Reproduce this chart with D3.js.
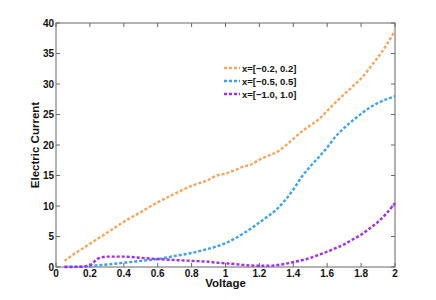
<!DOCTYPE html>
<html>
<head>
<meta charset="utf-8">
<script src="https://cdn.jsdelivr.net/npm/d3@7"></script>
<style>
  body { margin: 0; background: #fff; }
  svg text { font-family: "Liberation Sans", Arial, sans-serif; font-weight: bold; fill: #111; }
  .tick-label { font-size: 10px; }
  .axis-label { font-size: 11.5px; }
  .legend-label { font-size: 9.5px; }
  .frame { fill: none; stroke: #666; stroke-width: 1; }
  .tick { stroke: #666; stroke-width: 1; }
  .series { fill: none; stroke-width: 2.4; stroke-dasharray: 3,2; }
</style>
</head>
<body>
<script>
// Values
var seriesNames = ["x=[\u22120.2, 0.2]", "x=[\u22120.5, 0.5]", "x=[\u22121.0, 1.0]"];
var seriesColors = ["#f7a55a", "#3d9ff5", "#a42cf0"];

var voltage = [0.05, 0.1, 0.15, 0.2, 0.25, 0.3, 0.4, 0.5, 0.6, 0.7, 0.8, 0.9, 0.95, 1.0, 1.05, 1.1, 1.15, 1.2, 1.25, 1.3, 1.35, 1.4, 1.45, 1.5, 1.55, 1.6, 1.65, 1.7, 1.75, 1.8, 1.85, 1.9, 1.95, 2.0];

var currentNarrow = [1.0, 2.0, 2.9, 3.8, 4.7, 5.6, 7.4, 9.0, 10.6, 12.0, 13.3, 14.3, 15.0, 15.3, 15.8, 16.4, 16.8, 17.6, 18.2, 18.8, 19.8, 21.0, 22.2, 23.2, 24.2, 25.6, 27.0, 28.3, 29.6, 30.9, 32.6, 34.4, 36.4, 38.8];
var currentMid = [0.05, 0.05, 0.05, 0.1, 0.3, 0.4, 0.7, 1.0, 1.3, 1.8, 2.3, 3.0, 3.4, 3.9, 4.6, 5.4, 6.3, 7.3, 8.3, 9.4, 10.9, 12.7, 14.8, 16.5, 18.0, 19.6, 21.4, 22.8, 24.0, 25.1, 26.1, 26.9, 27.5, 28.0];
var currentWide = [0.0, 0.0, 0.05, 0.3, 1.4, 1.7, 1.7, 1.5, 1.3, 1.15, 1.0, 0.85, 0.7, 0.6, 0.5, 0.35, 0.25, 0.2, 0.2, 0.3, 0.5, 0.8, 1.1, 1.5, 2.0, 2.5, 3.1, 3.7, 4.5, 5.3, 6.3, 7.4, 8.8, 10.5];

var xTicks = [0, 0.2, 0.4, 0.6, 0.8, 1, 1.2, 1.4, 1.6, 1.8, 2];
var yTicks = [0, 5, 10, 15, 20, 25, 30, 35, 40];

var w = 436, h = 300;
var plotLeft = 56, plotRight = 395, plotTop = 23, plotBottom = 267;
var tickLen = 4;

var svg = d3.select("body").append("svg")
    .attr("width", w)
    .attr("height", h);

var x = d3.scaleLinear().domain([0, 2]).range([plotLeft, plotRight]);
var y = d3.scaleLinear().domain([0, 40]).range([plotBottom, plotTop]);

// Frame and inward ticks on all four sides
svg.append("rect")
    .attr("class", "frame")
    .attr("x", plotLeft)
    .attr("y", plotTop)
    .attr("width", plotRight - plotLeft)
    .attr("height", plotBottom - plotTop);

xTicks.forEach(function(t) {
    svg.append("line").attr("class", "tick")
        .attr("x1", x(t)).attr("x2", x(t))
        .attr("y1", plotBottom).attr("y2", plotBottom - tickLen);
    svg.append("line").attr("class", "tick")
        .attr("x1", x(t)).attr("x2", x(t))
        .attr("y1", plotTop).attr("y2", plotTop + tickLen);
    svg.append("text")
        .attr("class", "tick-label")
        .attr("x", x(t))
        .attr("y", plotBottom + 9.5)
        .attr("text-anchor", "middle")
        .text(d3.format("~g")(t));
});

yTicks.forEach(function(t) {
    svg.append("line").attr("class", "tick")
        .attr("x1", plotLeft).attr("x2", plotLeft + tickLen)
        .attr("y1", y(t)).attr("y2", y(t));
    svg.append("line").attr("class", "tick")
        .attr("x1", plotRight).attr("x2", plotRight - tickLen)
        .attr("y1", y(t)).attr("y2", y(t));
    svg.append("text")
        .attr("class", "tick-label")
        .attr("x", plotLeft - 2)
        .attr("y", y(t) + 3.5)
        .attr("text-anchor", "end")
        .text(t);
});

// Axis titles
svg.append("text")
    .attr("class", "axis-label")
    .attr("x", (plotLeft + plotRight) / 2)
    .attr("y", 287)
    .attr("text-anchor", "middle")
    .text("Voltage");

svg.append("text")
    .attr("class", "axis-label")
    .attr("transform", "translate(39," + ((plotTop + plotBottom) / 2) + ") rotate(-90)")
    .attr("text-anchor", "middle")
    .text("Electric Current");

// Series
var allSeries = [currentNarrow, currentMid, currentWide];
var line = d3.line()
    .x(function(d) { return x(d[0]); })
    .y(function(d) { return y(d[1]); })
    .curve(d3.curveMonotoneX);

allSeries.forEach(function(vals, i) {
    svg.append("path")
        .attr("class", "series")
        .attr("stroke", seriesColors[i])
        .attr("d", line(d3.zip(voltage, vals)));
});

// Legend
var legendX = 224, legendY = 68, legendStep = 13;
seriesNames.forEach(function(name, i) {
    var ly = legendY + i * legendStep;
    svg.append("line")
        .attr("class", "series")
        .attr("stroke", seriesColors[i])
        .attr("x1", legendX).attr("x2", legendX + 16)
        .attr("y1", ly).attr("y2", ly);
    svg.append("text")
        .attr("class", "legend-label")
        .attr("x", legendX + 18)
        .attr("y", ly + 3.5)
        .text(name);
});
</script>
</body>
</html>
